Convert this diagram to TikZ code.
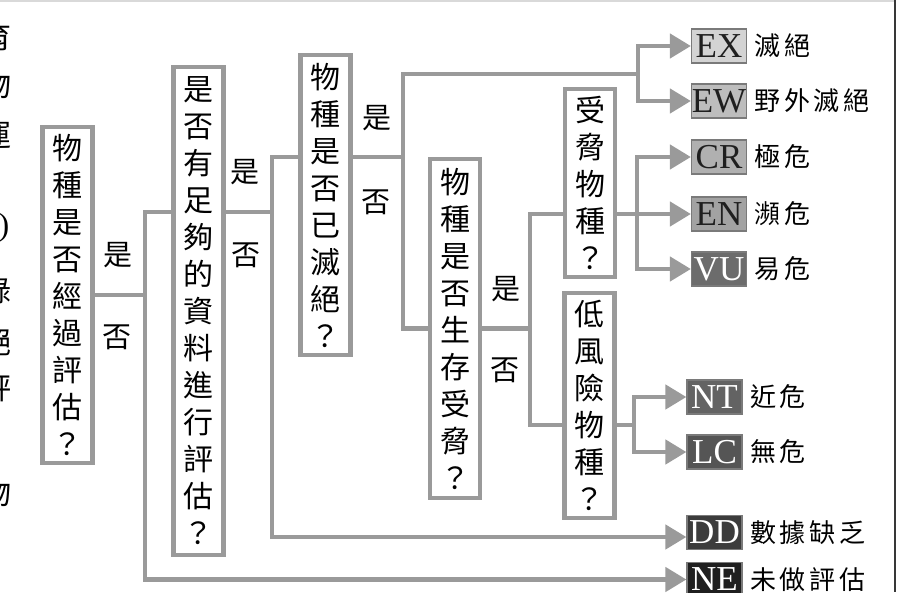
\documentclass[tikz,border=0pt]{standalone}
\usepackage{fontspec}
\usepackage{tikz}
\usetikzlibrary{arrows.meta}

\setmainfont{Liberation Serif}
\newfontfamily\cjk{Noto Sans CJK TC}
\newfontfamily\cjklab[LetterSpace=14]{Noto Sans CJK TC}

\definecolor{linegray}{HTML}{9A9A9A}
\definecolor{tagline}{HTML}{7A7A7A}
\definecolor{exfill}{HTML}{D3D3D3}
\definecolor{ewfill}{HTML}{BDBDBD}
\definecolor{crfill}{HTML}{B0B0B0}
\definecolor{enfill}{HTML}{A2A2A2}
\definecolor{vufill}{HTML}{6C6C6C}
\definecolor{ntfill}{HTML}{636363}
\definecolor{lcfill}{HTML}{555555}
\definecolor{ddfill}{HTML}{3C3C3C}
\definecolor{nefill}{HTML}{1F1F1F}

\begin{document}
\begin{tikzpicture}[x=1pt, y=-1pt,
    link/.style = {draw=linegray, line width=4.5pt},
    arrow/.style = {link, -{Triangle[length=21pt,width=24pt]}},
    qbox/.style = {draw=linegray, line width=4.5pt, fill=white, minimum width=50, inner sep=0pt, align=center, font=\fontsize{30}{37}\cjk},
    ans/.style = {font=\fontsize{29}{30}\cjk},
    tag/.style = {draw=tagline, line width=1.2pt, minimum width=55, minimum height=34, inner sep=0pt, font=\fontsize{35}{35}\selectfont},
    tagtext/.style = {anchor=west, font=\fontsize{26}{26}\cjklab}
]
    \useasboundingbox (0,0) rectangle (900,592);

    % page edges
    \draw[draw=black!15, line width=1.5pt] (0,0.75) -- (895,0.75);
    \draw[draw=black!78, line width=2.5pt] (895,0) -- (895,592);

    % cut text of the page on the left
    \begin{scope}
        \clip (0,0) rectangle (20,592);
        \node[font=\fontsize{30}{30}\cjk] (p1) at (-4,37) {育};
        \node[font=\fontsize{30}{30}\cjk] (p2) at (-4,85) {物};
        \node[font=\fontsize{30}{30}\cjk] (p3) at (-4,135) {運};
        \node[font=\fontsize{32}{32}\selectfont] (p4) at (4,228) {)};
        \node[font=\fontsize{30}{30}\cjk] (p5) at (-4,290) {錄};
        \node[font=\fontsize{30}{30}\cjk] (p6) at (-4,342) {絕};
        \node[font=\fontsize{30}{30}\cjk] (p7) at (-4,388) {評};
        \node[font=\fontsize{30}{30}\cjk] (p8) at (-4,493) {物};
    \end{scope}

    % questions
    \node[qbox, minimum height=336] (q1) at (67.5,295) {物\\種\\是\\否\\經\\過\\評\\估\\？};
    \node[qbox, minimum height=488] (q2) at (198.5,311) {是\\否\\有\\足\\夠\\的\\資\\料\\進\\行\\評\\估\\？};
    \node[qbox, minimum height=300] (q3) at (325.5,205) {物\\種\\是\\否\\已\\滅\\絕\\？};
    \node[qbox, minimum height=339] (q4) at (455,328.5) {物\\種\\是\\否\\生\\存\\受\\脅\\？};
    \node[qbox, minimum height=188] (q5) at (590,183) {受\\脅\\物\\種\\？};
    \node[qbox, minimum height=225] (q6) at (589.5,405.5) {低\\風\\險\\物\\種\\？};

    % answers
    \node[ans] (y1) at (118,255) {是};
    \node[ans] (n1) at (117,337) {否};
    \node[ans] (y2) at (245,172) {是};
    \node[ans] (n2) at (246,255) {否};
    \node[ans] (y3) at (377,118) {是};
    \node[ans] (n3) at (376,202) {否};
    \node[ans] (y4) at (506,289) {是};
    \node[ans] (n4) at (505,370) {否};

    % categories
    \node[tag, fill=exfill, text=black!88] (ex) at (719,46) {EX};
    \node[tag, fill=ewfill, text=black!88] (ew) at (719,101) {EW};
    \node[tag, fill=crfill, text=black!88] (cr) at (719,157) {CR};
    \node[tag, fill=enfill, text=black!88] (en) at (719,214) {EN};
    \node[tag, fill=vufill, text=white] (vu) at (719,269) {VU};
    \node[tag, fill=ntfill, text=white] (nt) at (714.5,397) {NT};
    \node[tag, fill=lcfill, text=white] (lc) at (714.5,452) {LC};
    \node[tag, fill=ddfill, text=white] (dd) at (714.5,532.5) {DD};
    \node[tag, fill=nefill, text=white] (ne) at (714.5,579.5) {NE};

    \node[tagtext] (exl) at ([xshift=4]ex.east) {滅絕};
    \node[tagtext] (ewl) at ([xshift=4]ew.east) {野外滅絕};
    \node[tagtext] (crl) at ([xshift=4]cr.east) {極危};
    \node[tagtext] (enl) at ([xshift=4]en.east) {瀕危};
    \node[tagtext] (vul) at ([xshift=4]vu.east) {易危};
    \node[tagtext] (ntl) at ([xshift=4]nt.east) {近危};
    \node[tagtext] (lcl) at ([xshift=4]lc.east) {無危};
    \node[tagtext] (ddl) at ([xshift=4]dd.east) {數據缺乏};
    \node[tagtext] (nel) at ([xshift=4]ne.east) {未做評估};

    % connectors
    \draw[link] (q1.east) -- (145,295) coordinate (f1) |- (q2.west |- 0,212);
    \draw[arrow] (f1) |- (ne.west);

    \draw[link] (q2.east |- 0,212) -- (272,212) coordinate (f2) |- (q3.west |- 0,157);
    \draw[arrow] (f2) |- (dd.west |- 0,537);

    \draw[link] (q3.east |- 0,157) -- (403,157) coordinate (f3) |- (q4.west);
    \draw[link] (f3) |- (638,74) coordinate (f3a);
    \draw[arrow] (f3a) |- (ex.west);
    \draw[arrow] (f3a) |- (ew.west);

    \draw[link] (q4.east) -- (530,328.5) coordinate (f4) |- (q5.west |- 0,214);
    \draw[link] (f4) |- (q6.west |- 0,425);

    \draw[link] (q5.east |- 0,214) -- (637,214) coordinate (f5);
    \draw[arrow] (f5) |- (cr.west);
    \draw[arrow] (f5) |- (en.west);
    \draw[arrow] (f5) |- (vu.west);

    \draw[link] (q6.east |- 0,425) -- (634,425) coordinate (f6);
    \draw[arrow] (f6) |- (nt.west);
    \draw[arrow] (f6) |- (lc.west);
\end{tikzpicture}
\end{document}
